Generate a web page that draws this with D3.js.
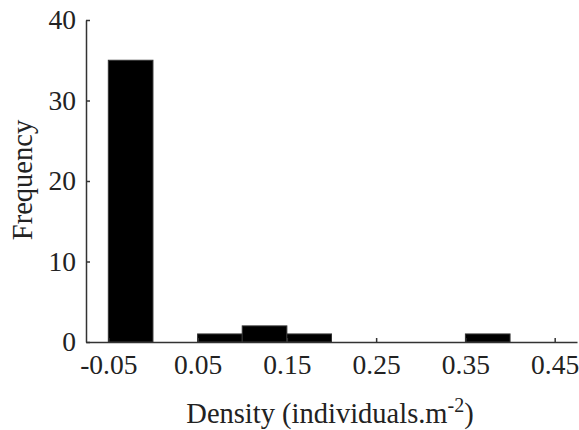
<!DOCTYPE html>
<html>
<head>
<meta charset="utf-8">
<script src="https://cdn.jsdelivr.net/npm/d3@7/dist/d3.min.js"></script>
<style>
  body { margin: 0; background: #fff; }
  svg text { font-family: "Liberation Serif", "Times New Roman", serif; fill: #222; }
</style>
</head>
<body>
<div id="chart"></div>
<script>
// histogram bins (left edges) and counts
let binStarts = [-0.05, 0, 0.05, 0.1, 0.15, 0.2, 0.25, 0.3, 0.35, 0.4];
let counts = [35, 0, 1, 2, 1, 0, 0, 0, 1, 0];
let binWidth = 0.05;
let xTicks = [-0.05, 0.05, 0.15, 0.25, 0.35, 0.45];
let yTicks = [0, 10, 20, 30, 40];

let width = 579, height = 430;

let svg = d3.select('#chart')
    .append('svg')
    .attr('width', width)
    .attr('height', height);

let x = d3.scaleLinear().domain([-0.075, 0.475]).range([86, 577]);
let y = d3.scaleLinear().domain([0, 40]).range([342, 20]);

let bins = binStarts.map((b, i) => ({x0: b, x1: b + binWidth, n: counts[i]}));

svg.append('g')
    .selectAll('rect')
    .data(bins.filter(d => d.n > 0))
    .enter()
    .append('rect')
    .attr('x', d => x(d.x0))
    .attr('width', d => x(d.x1) - x(d.x0))
    .attr('y', d => y(d.n))
    .attr('height', d => y(0) - y(d.n))
    .attr('fill', '#000')
    .attr('stroke', '#333')
    .attr('stroke-width', 1);

let xAxis = d3.axisBottom(x)
    .tickValues(xTicks)
    .tickFormat(d => d.toFixed(2))
    .tickSizeInner(-4)
    .tickSizeOuter(0)
    .tickPadding(12);

let yAxis = d3.axisLeft(y)
    .tickValues(yTicks)
    .tickSizeInner(-4)
    .tickSizeOuter(0)
    .tickPadding(10);

let gx = svg.append('g')
    .attr('transform', `translate(0,${y(0)})`)
    .call(xAxis);

let gy = svg.append('g')
    .attr('transform', `translate(${x(-0.075)},0)`)
    .call(yAxis);

[gx, gy].forEach(g => {
    g.select('.domain').attr('stroke', '#333').attr('stroke-width', 1.5);
    g.selectAll('.tick line').attr('stroke', '#333').attr('stroke-width', 1.5);
    g.selectAll('.tick text')
        .attr('font-family', '"Liberation Serif", serif')
        .attr('font-size', 27.5)
        .attr('fill', '#222');
});

// axis titles
let xl = svg.append('text')
    .attr('x', 330)
    .attr('y', 423)
    .attr('text-anchor', 'middle')
    .attr('font-size', 28.5);
xl.append('tspan').text('Density (individuals.m');
xl.append('tspan').attr('dy', -11).attr('font-size', 20).text('-2');
xl.append('tspan').attr('dy', 11).text(')');

svg.append('text')
    .attr('transform', 'translate(32,180) rotate(-90)')
    .attr('text-anchor', 'middle')
    .attr('font-size', 28.5)
    .text('Frequency');
</script>
</body>
</html>
